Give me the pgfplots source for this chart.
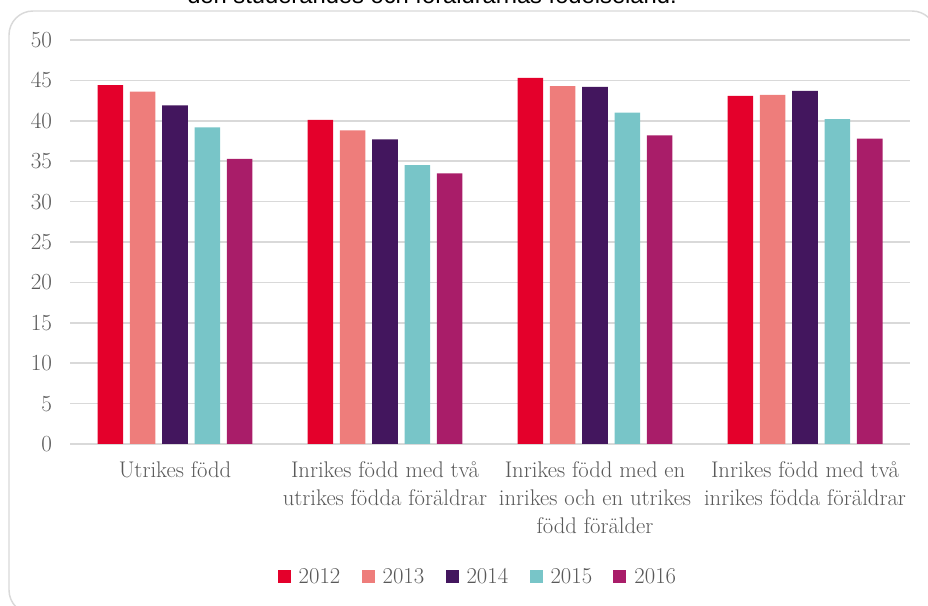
\documentclass[border=0pt]{standalone}
\usepackage{fontspec}
\usepackage{pgfplots}
\pgfplotsset{compat=1.18}
\newfontfamily\topfont{Liberation Sans}
\definecolor{c2012}{HTML}{E4002B}
\definecolor{c2013}{HTML}{EE7D7B}
\definecolor{c2014}{HTML}{43165E}
\definecolor{c2015}{HTML}{78C5C8}
\definecolor{c2016}{HTML}{A91D69}
\definecolor{txt}{HTML}{595959}
\definecolor{grid}{HTML}{D9D9D9}
\begin{document}
\begin{tikzpicture}
\path[use as bounding box] (0,0) rectangle (696pt,454.5pt);
\clip (0,0) rectangle (696pt,454.5pt);
\draw[grid, line width=1.1pt, rounded corners=18pt] (6.75pt,446.25pt) rectangle (702pt,-6pt);
\node[anchor=base, inner sep=0pt, font=\topfont\fontsize{17.8}{20}\selectfont] at (324pt,451.5pt) {den studerandes och föräldrarnas födelseland.};
\begin{axis}[
  at={(52.5pt,121.5pt)}, anchor=south west,
  scale only axis, width=630pt, height=303pt,
  xmin=-0.5, xmax=3.5, ymin=0, ymax=50,
  ytick={0,5,...,50},
  xtick={0,1,2,3},
  xticklabels={Utrikes född,{Inrikes född med två\\utrikes födda föräldrar},{Inrikes född med en\\inrikes och en utrikes\\född förälder},{Inrikes född med två\\inrikes födda föräldrar}},
  axis line style={draw=none},
  major tick length=0pt,
  ymajorgrids,
  grid style={draw=grid, line width=1.1pt},
  tick label style={font=\fontsize{17}{21}\selectfont, text=txt},
  yticklabel style={xshift=-10pt},
  xticklabel style={align=center, yshift=-9.5pt},
  ybar, bar width=0.122,
  legend columns=5,
  legend style={at={(0.486,-0.329)}, anchor=center, draw=none, fill=none,
    font=\fontsize{17}{19}\selectfont, text=txt,
    /tikz/every odd column/.append style={column sep=4pt},
    /tikz/every even column/.append style={column sep=14pt}},
  every axis plot/.append style={draw=none,
    legend image code/.code={\fill[##1] (0pt,-4.9pt) rectangle (9.75pt,4.9pt);}},
]
\addplot[fill=c2012, bar shift=-0.308] coordinates {(0,44.4) (1,40.1) (2,45.3) (3,43.1)};
\addplot[fill=c2013, bar shift=-0.154] coordinates {(0,43.6) (1,38.8) (2,44.3) (3,43.2)};
\addplot[fill=c2014, bar shift=0] coordinates {(0,41.9) (1,37.7) (2,44.2) (3,43.7)};
\addplot[fill=c2015, bar shift=0.154] coordinates {(0,39.2) (1,34.5) (2,41.0) (3,40.2)};
\addplot[fill=c2016, bar shift=0.308] coordinates {(0,35.3) (1,33.5) (2,38.2) (3,37.8)};
\legend{2012,2013,2014,2015,2016}
\end{axis}
\end{tikzpicture}
\end{document}
